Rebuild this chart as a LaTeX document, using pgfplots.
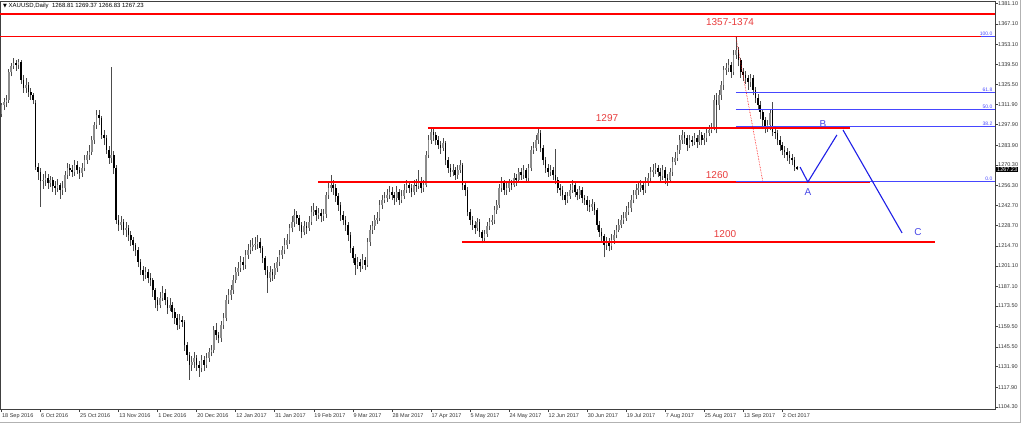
\documentclass[border=0pt]{standalone}
\usepackage{pgfplots}
\pgfplotsset{compat=1.18}
\usepackage{pgfplotstable}
\usepackage{fontspec}
\setmainfont{Liberation Sans}
\newfontfamily\dejavu{DejaVu Sans}
\definecolor{lred}{RGB}{255,0,0}
\definecolor{tred}{RGB}{232,60,60}
\definecolor{fibblue}{RGB}{70,70,255}
\definecolor{abcblue}{RGB}{30,30,230}
\definecolor{lblblue}{RGB}{70,70,230}
\pgfplotstableread{
i o h l c
0 1305 1313 1303 1311.5
1 1311.5 1316 1308 1313.5
2 1313.5 1318 1310 1315
3 1315 1336 1313 1334
4 1334 1340 1331 1338
5 1338 1344 1336 1340.3
6 1340.3 1342 1335 1339
7 1339 1343 1336 1341
8 1341 1342 1326 1328.6
9 1328.6 1332 1320 1323
10 1323 1330 1320 1325.2
11 1325.2 1327 1317 1320.4
12 1320.4 1323 1315 1318.3
13 1318.3 1320 1312 1314.9
14 1313 1315 1267 1269
15 1269 1272 1260 1265.5
16 1265.5 1268 1241.5 1259
17 1259 1264 1254 1260
18 1260 1266 1256 1261.4
19 1261.4 1264 1254 1258
20 1258 1263 1255 1260
21 1260 1262 1252 1255.9
22 1255.9 1259 1250 1254.5
23 1254.5 1261 1252 1256.6
24 1256.6 1258 1247 1253.2
25 1253.2 1259 1250 1254.5
26 1254.5 1266 1252 1263.4
27 1263.4 1272 1261 1268.3
28 1268.3 1271 1263 1266.9
29 1266.9 1270 1262 1265.5
30 1265.5 1274 1263 1270.3
31 1270.3 1273 1264 1266.9
32 1266.9 1269 1261 1264.8
33 1264.8 1272 1262 1268.3
34 1268.3 1277 1266 1273.7
35 1273.7 1280 1271 1277.2
36 1277.2 1284 1274 1279.2
37 1279.2 1290 1277 1287.5
38 1287.5 1300 1285 1297.8
39 1297.8 1308 1295 1304.6
40 1304.6 1308 1298 1302.5
41 1302.5 1304 1288 1290.9
42 1290.9 1294 1284 1288.8
43 1288.8 1291 1278 1280.6
44 1280.6 1283 1271 1275.1
45 1275.1 1337.5 1272 1277.2
46 1277.2 1280 1264 1268
47 1268 1270 1230 1232.6
48 1232.6 1236 1225 1229.2
49 1229.2 1235 1226 1231.2
50 1231.2 1233 1222 1225.7
51 1225.7 1231 1221 1227.1
52 1227.1 1229 1218 1222.3
53 1222.3 1225 1215 1218.9
54 1218.9 1221 1211 1215.4
55 1215.4 1217 1208 1212
56 1212 1214 1200 1203.8
57 1203.8 1206 1195 1198.3
58 1198.3 1201 1191 1194.8
59 1194.8 1200 1192 1196.9
60 1196.9 1199 1189 1192.8
61 1192.8 1196 1187 1191.4
62 1191.4 1193 1180 1184.6
63 1184.6 1186 1172 1177.7
64 1177.7 1180 1170 1174.3
65 1174.3 1183 1172 1179.1
66 1179.1 1187 1177 1182.5
67 1182.5 1185 1174 1177.7
68 1177.7 1180 1168 1172.2
69 1172.2 1179 1170 1174.3
70 1174.3 1176 1165 1169.5
71 1169.5 1172 1161 1165.3
72 1165.3 1168 1157 1160.5
73 1160.5 1168 1158 1164
74 1164 1167 1159 1162.6
75 1162.6 1164 1143 1146.8
76 1146.8 1149 1136 1140
77 1140 1142 1122.8 1133.1
78 1133.1 1139 1129 1135.2
79 1135.2 1142 1131 1137.9
80 1137.9 1140 1129 1133.1
81 1133.1 1136 1125 1131.1
82 1131.1 1140 1128 1136.5
83 1136.5 1139 1129 1133.1
84 1133.1 1141 1131 1137.9
85 1137.9 1145 1135 1142
86 1142 1147 1139 1143.4
87 1143.4 1160 1141 1157.1
88 1157.1 1162 1150 1153.7
89 1153.7 1156 1148 1151.6
90 1151.6 1163 1149 1160.5
91 1160.5 1169 1158 1165.3
92 1165.3 1181 1163 1177.7
93 1177.7 1185 1175 1181
94 1181 1188 1178 1184.6
95 1184.6 1195 1182 1191.4
96 1191.4 1200 1189 1196.9
97 1196.9 1204 1194 1199.6
98 1199.6 1208 1197 1203.8
99 1203.8 1207 1198 1201.7
100 1201.7 1212 1199 1208.6
101 1208.6 1216 1206 1212
102 1212 1219 1209 1214.1
103 1214.1 1220 1211 1215.4
104 1215.4 1221 1212 1216.1
105 1216.1 1222 1213 1217.5
106 1217.5 1220 1210 1213.4
107 1213.4 1215 1203 1206.5
108 1206.5 1208 1195 1198.3
109 1198.3 1201 1182.5 1192.8
110 1192.8 1201 1190 1196.9
111 1196.9 1199 1191 1194.8
112 1194.8 1203 1192 1199.6
113 1199.6 1207 1197 1203.8
114 1203.8 1212 1201 1208.6
115 1208.6 1215 1206 1212
116 1212 1220 1209 1215.4
117 1215.4 1223 1213 1218.9
118 1218.9 1230 1216 1227.1
119 1227.1 1235 1224 1231.2
120 1231.2 1240 1228 1236
121 1236 1239 1230 1234
122 1234 1236 1225 1229.2
123 1229.2 1231 1220 1224.3
124 1224.3 1232 1222 1228.5
125 1228.5 1231 1223 1227.1
126 1227.1 1235 1225 1231.2
127 1231.2 1242 1229 1238.1
128 1238.1 1244 1235 1239.4
129 1239.4 1242 1232 1236
130 1236 1241 1233 1237.4
131 1237.4 1240 1231 1235.3
132 1235.3 1240 1232 1236.7
133 1236.7 1252 1234 1249.7
134 1249.7 1258 1247 1254.5
135 1254.5 1263.4 1252 1256.6
136 1256.6 1260 1250 1254.5
137 1254.5 1257 1245 1249
138 1249 1251 1239 1242.9
139 1242.9 1245 1232 1236
140 1236 1239 1229 1232.6
141 1232.6 1235 1225 1229.2
142 1229.2 1231 1218 1222.3
143 1222.3 1224 1210 1213.4
144 1213.4 1215 1203 1206.5
145 1206.5 1209 1194.8 1201.7
146 1201.7 1207 1199 1203.8
147 1203.8 1206 1197 1201
148 1201 1209 1199 1205.1
149 1205.1 1207 1198 1201.7
150 1201.7 1220 1200 1217.5
151 1217.5 1229 1215 1225.7
152 1225.7 1232 1223 1228.5
153 1228.5 1236 1226 1232.6
154 1232.6 1238 1230 1234
155 1234 1246 1232 1242.9
156 1242.9 1250 1240 1246.3
157 1246.3 1252 1244 1247.7
158 1247.7 1254 1245 1249.7
159 1249.7 1256 1247 1251.8
160 1251.8 1255 1246 1249.7
161 1249.7 1252 1243 1247.7
162 1247.7 1256 1245 1251.8
163 1251.8 1254 1243 1246.3
164 1246.3 1253 1244 1249
165 1249 1257 1247 1253.2
166 1253.2 1260 1251 1256.6
167 1256.6 1259 1251 1254.5
168 1254.5 1257 1248 1251.8
169 1251.8 1260 1250 1256.6
170 1256.6 1261 1252 1255.9
171 1255.9 1266.9 1254 1258.6
172 1258.6 1262 1251 1254.5
173 1254.5 1260 1252 1256.6
174 1256.6 1280 1255 1277.2
175 1277.2 1291 1275 1287.5
176 1287.5 1295.7 1285 1292.9
177 1292.9 1295 1287 1290.9
178 1290.9 1293 1284 1287.5
179 1287.5 1290 1281 1284
180 1284 1287 1278 1282
181 1282 1289 1280 1285.4
182 1285.4 1287 1270 1273.7
183 1273.7 1276 1265 1268.3
184 1268.3 1271 1262 1265.5
185 1265.5 1271 1263 1266.9
186 1266.9 1269 1260 1263.4
187 1263.4 1270 1261 1266.9
188 1266.9 1274 1265 1270.3
189 1270.3 1272 1253 1256.6
190 1256.6 1259 1249 1253.2
191 1253.2 1255 1235 1238.1
192 1238.1 1240 1229 1232.6
193 1232.6 1235 1226 1229.2
194 1229.2 1232 1223 1227.1
195 1227.1 1234 1225 1231.2
196 1231.2 1233 1221 1224.3
197 1224.3 1226 1216.5 1220.2
198 1220.2 1226 1218 1223
199 1223 1231 1221 1228.5
200 1228.5 1234 1226 1231.2
201 1231.2 1236 1229 1232.6
202 1232.6 1242 1230 1239.4
203 1239.4 1246 1237 1242.9
204 1242.9 1257 1241 1254.5
205 1254.5 1262 1252 1258.6
206 1258.6 1260 1250 1253.2
207 1253.2 1258 1250 1254.5
208 1254.5 1261 1252 1258
209 1258 1260 1253 1256.6
210 1256.6 1265 1255 1261.4
211 1261.4 1264 1256 1260
212 1260 1268 1258 1265.5
213 1265.5 1268 1260 1263.4
214 1263.4 1270 1261 1266.9
215 1266.9 1268 1258 1261.4
216 1261.4 1271 1259 1268.3
217 1268.3 1283 1266 1280.6
218 1280.6 1286 1278 1282
219 1282 1291 1280 1287.5
220 1287.5 1296 1285 1292.3
221 1292.3 1294 1279 1282
222 1282 1284 1270 1273.7
223 1273.7 1276 1265 1268.3
224 1268.3 1271 1262 1265.5
225 1265.5 1270 1263 1266.9
226 1266.9 1269 1260 1263.4
227 1263.4 1281 1257 1260
228 1260 1262 1251 1254.5
229 1254.5 1257 1249 1253.2
230 1253.2 1256 1246 1249.7
231 1249.7 1252 1243 1246.3
232 1246.3 1252 1244 1249
233 1249 1257 1247 1253.2
234 1253.2 1260 1251 1256.6
235 1256.6 1258 1248 1251.8
236 1251.8 1254 1246 1249.7
237 1249.7 1256 1247 1253.2
238 1253.2 1255 1244 1247.7
239 1247.7 1250 1243 1246.3
240 1246.3 1249 1239 1242.9
241 1242.9 1246 1238 1241.5
242 1241.5 1247 1239 1243.6
243 1243.6 1245 1236 1239.4
244 1239.4 1241 1226 1229.2
245 1229.2 1232 1221 1224.3
246 1224.3 1227 1217 1221.6
247 1221.6 1223 1207 1215.4
248 1215.4 1221 1212 1217.5
249 1217.5 1220 1211 1214.7
250 1214.7 1223 1212 1218.9
251 1218.9 1226 1216 1222.3
252 1222.3 1229 1220 1225.7
253 1225.7 1233 1224 1229.2
254 1229.2 1236 1227 1232.6
255 1232.6 1238 1230 1234
256 1234 1242 1232 1238.1
257 1238.1 1245 1236 1240.8
258 1240.8 1250 1238 1246.3
259 1246.3 1253 1244 1249.7
260 1249.7 1257 1247 1253.2
261 1253.2 1258 1250 1254.5
262 1254.5 1260 1252 1256.6
263 1256.6 1259 1250 1253.2
264 1253.2 1262 1251 1258.6
265 1258.6 1265 1256 1261.4
266 1261.4 1269 1259 1265.5
267 1265.5 1271 1262 1266.9
268 1266.9 1272 1264 1268.3
269 1268.3 1270 1262 1265.5
270 1265.5 1268 1259 1262.8
271 1262.8 1270 1260 1266.9
272 1266.9 1269 1257 1261.4
273 1261.4 1264 1256 1260
274 1260 1268 1258 1265.5
275 1265.5 1276 1263 1272.4
276 1272.4 1279 1270 1275.1
277 1275.1 1284 1273 1280.6
278 1280.6 1291 1278 1287.5
279 1287.5 1294 1285 1290.9
280 1290.9 1293 1285 1288.8
281 1288.8 1291 1280 1284
282 1284 1291 1282 1287.5
283 1287.5 1290 1283 1286.1
284 1286.1 1292 1284 1288.8
285 1288.8 1291 1282 1286.1
286 1286.1 1294 1284 1290.9
287 1290.9 1293 1284 1287.5
288 1287.5 1292 1284 1288.8
289 1288.8 1295 1286 1292.3
290 1292.3 1298 1290 1294.3
291 1294.3 1299 1292 1295.7
292 1295.7 1318 1294 1314.9
293 1314.9 1320 1292 1311.5
294 1311.5 1322 1308 1318.3
295 1318.3 1328 1315 1325.2
296 1325.2 1338 1322 1335.5
297 1335.5 1340 1332 1336.9
298 1336.9 1343 1334 1338.9
299 1338.9 1341 1330 1334.1
300 1334.1 1349 1332 1345.8
301 1345.8 1358 1343 1349.2
302 1349.2 1351 1338 1342.3
303 1342.3 1344 1330 1334.1
304 1334.1 1337 1328 1332.1
305 1332.1 1335 1326 1330
306 1330 1332 1322 1327.2
307 1327.2 1333 1324 1330
308 1330 1332 1318 1321.8
309 1321.8 1324 1313 1316.3
310 1316.3 1319 1308 1311.5
311 1311.5 1314 1302 1306.7
312 1306.7 1309 1297 1301.2
313 1301.2 1303 1292 1295.7
314 1295.7 1301 1293 1297.8
315 1297.8 1308 1294 1306
316 1308 1313.5 1290 1292.9
317 1292.9 1296 1288 1292.3
318 1292.3 1294 1284 1287.5
319 1287.5 1290 1280 1284
320 1284 1286 1277 1280.6
321 1280.6 1283 1275 1279.2
322 1279.2 1282 1273 1277.2
323 1277.2 1280 1271 1275.1
324 1275.1 1278 1270 1273.7
325 1273.7 1276 1266 1268.81
326 1268.81 1269.37 1266.83 1267.23
}\candles
\begin{document}
\begin{tikzpicture}
\path[use as bounding box] (0pt,0pt) rectangle (1024pt,425pt);
\begin{axis}[
  at={(0pt,16pt)}, anchor=south west,
  scale only axis, width=995pt, height=408pt,
  xmin=-0.6, xmax=407.2, ymin=1102.9, ymax=1382.8,
  axis line style={black!75, line width=0.7pt},
  tick align=outside, major tick length=3pt,
  tick style={black!75, line width=0.5pt},
  xtick pos=bottom, ytick pos=right, yticklabel pos=right,
  xtick={0,16,...,320},
  xticklabels={18 Sep 2016,6 Oct 2016,25 Oct 2016,13 Nov 2016,1 Dec 2016,20 Dec 2016,12 Jan 2017,31 Jan 2017,19 Feb 2017,9 Mar 2017,28 Mar 2017,17 Apr 2017,5 May 2017,24 May 2017,12 Jun 2017,30 Jun 2017,19 Jul 2017,7 Aug 2017,25 Aug 2017,13 Sep 2017,2 Oct 2017},
  ytick={1104.3,1117.9,1131.9,1145.5,1159.5,1173.5,1187.1,1201.1,1214.7,1228.7,1242.7,1256.3,1270.3,1283.9,1297.9,1311.9,1325.5,1339.5,1353.1,1367.1,1381.1},
  yticklabels={1104.30,1117.90,1131.90,1145.50,1159.50,1173.50,1187.10,1201.10,1214.70,1228.70,1242.70,1256.30,1270.30,1283.90,1297.90,1311.90,1325.50,1339.50,1353.10,1367.10,1381.10},
  xticklabel style={font=\fontsize{5.5}{6}\selectfont, anchor=north west, inner sep=0pt, xshift=0.5pt, yshift=-1pt, text=black!80},
  yticklabel style={font=\fontsize{5.5}{6}\selectfont, anchor=west, inner sep=0pt, xshift=0pt, text=black!80},
  clip=true,
]
% wicks
\addplot[draw=none, mark=none, error bars/y dir=plus, error bars/y explicit,
  error bars/error mark=none, error bars/error bar style={draw=black!70, line width=0.6pt}]
  table[x=i, y=l, y error expr=\thisrow{h}-\thisrow{l}] {\candles};
% bear bodies
\addplot[draw=none, mark=none, restrict expr to domain={\thisrow{o}-\thisrow{c}}{0.001:1000},
  error bars/y dir=plus, error bars/y explicit,
  error bars/error mark=none, error bars/error bar style={draw=black, line width=1.6pt}]
  table[x=i, y=c, y error expr=\thisrow{o}-\thisrow{c}] {\candles};
% bull bodies
\addplot[draw=none, mark=none, restrict expr to domain={\thisrow{c}-\thisrow{o}}{0:1000},
  error bars/y dir=plus, error bars/y explicit,
  error bars/error mark=none, error bars/error bar style={draw=black!45, line width=1.6pt}]
  table[x=i, y=o, y error expr=\thisrow{c}-\thisrow{o}] {\candles};
% fibonacci levels
\addplot[fibblue, line width=0.8pt] coordinates {(301,1358.3) (407.2,1358.3)};
\addplot[fibblue, line width=0.8pt] coordinates {(301,1320.3) (407.2,1320.3)};
\addplot[fibblue, line width=0.8pt] coordinates {(301,1308.55) (407.2,1308.55)};
\addplot[fibblue, line width=0.8pt] coordinates {(301,1296.8) (407.2,1296.8)};
\addplot[fibblue, line width=0.8pt] coordinates {(301,1258.8) (407.2,1258.8)};
\addplot[lred, densely dotted, line width=0.6pt] coordinates {(301,1358.3) (312,1259.3)};
% red levels
\addplot[lred, line width=1.4pt] coordinates {(-0.6,1373.9) (407.2,1373.9)};
\addplot[lred, line width=1.4pt] coordinates {(-0.6,1358.6) (401.5,1358.6)};
\addplot[lred, line width=1.4pt] coordinates {(174.8,1295.7) (347.8,1295.7)};
\addplot[lred, line width=1.4pt] coordinates {(129.7,1258.6) (356,1258.6)};
\addplot[lred, line width=1.4pt] coordinates {(188.7,1217.5) (382.6,1217.5)};
\addplot[fibblue, line width=0.8pt] coordinates {(301,1258.8) (407.2,1258.8)};
% ABC projection
\addplot[abcblue, line width=1.1pt] coordinates {(327.3,1268.9) (330.5,1258.6) (342.4,1290.9)};
\addplot[abcblue, line width=1.1pt] coordinates {(344.9,1294.3) (369.1,1223.7)};
\end{axis}
% annotations (picture coordinates: 1pt = 1px of the reference, origin bottom left)
\node[anchor=west, font=\fontsize{6}{7}\selectfont, inner sep=0pt] at (3pt,419.5pt) {{\dejavu\fontsize{5}{6}\selectfont ▼}\ XAUUSD,Daily\ \ 1268.81 1269.37 1266.83 1267.23};
\node[font=\fontsize{10}{12}\selectfont, text=tred] at (730pt,403pt) {1357-1374};
\node[font=\fontsize{10}{12}\selectfont, text=tred] at (607pt,307pt) {1297};
\node[font=\fontsize{10}{12}\selectfont, text=tred] at (717pt,249.5pt) {1260};
\node[font=\fontsize{10}{12}\selectfont, text=tred] at (725pt,191pt) {1200};
\node[font=\fontsize{10}{12}\selectfont, text=lblblue] at (808pt,233pt) {A};
\node[font=\fontsize{10}{12}\selectfont, text=lblblue] at (823pt,301pt) {B};
\node[font=\fontsize{10}{12}\selectfont, text=lblblue] at (918pt,193pt) {C};
\foreach \lab/\yy in {100.0/388.3, 61.8/333, 50.0/315.7, 38.2/299, 0.0/243.3}{
  \node[anchor=south east, font=\fontsize{5}{6}\selectfont, text=fibblue, inner sep=0.5pt] at (993pt,\yy pt) {\lab};
}
\node[anchor=west, fill=black, text=white, font=\fontsize{5.5}{6}\selectfont, inner sep=1pt] at (996pt,255.5pt) {1267.23};
\draw[black!30, line width=0.6pt] (0pt,3pt) -- (1020pt,3pt) -- (1020pt,425pt);
\end{tikzpicture}
\end{document}
